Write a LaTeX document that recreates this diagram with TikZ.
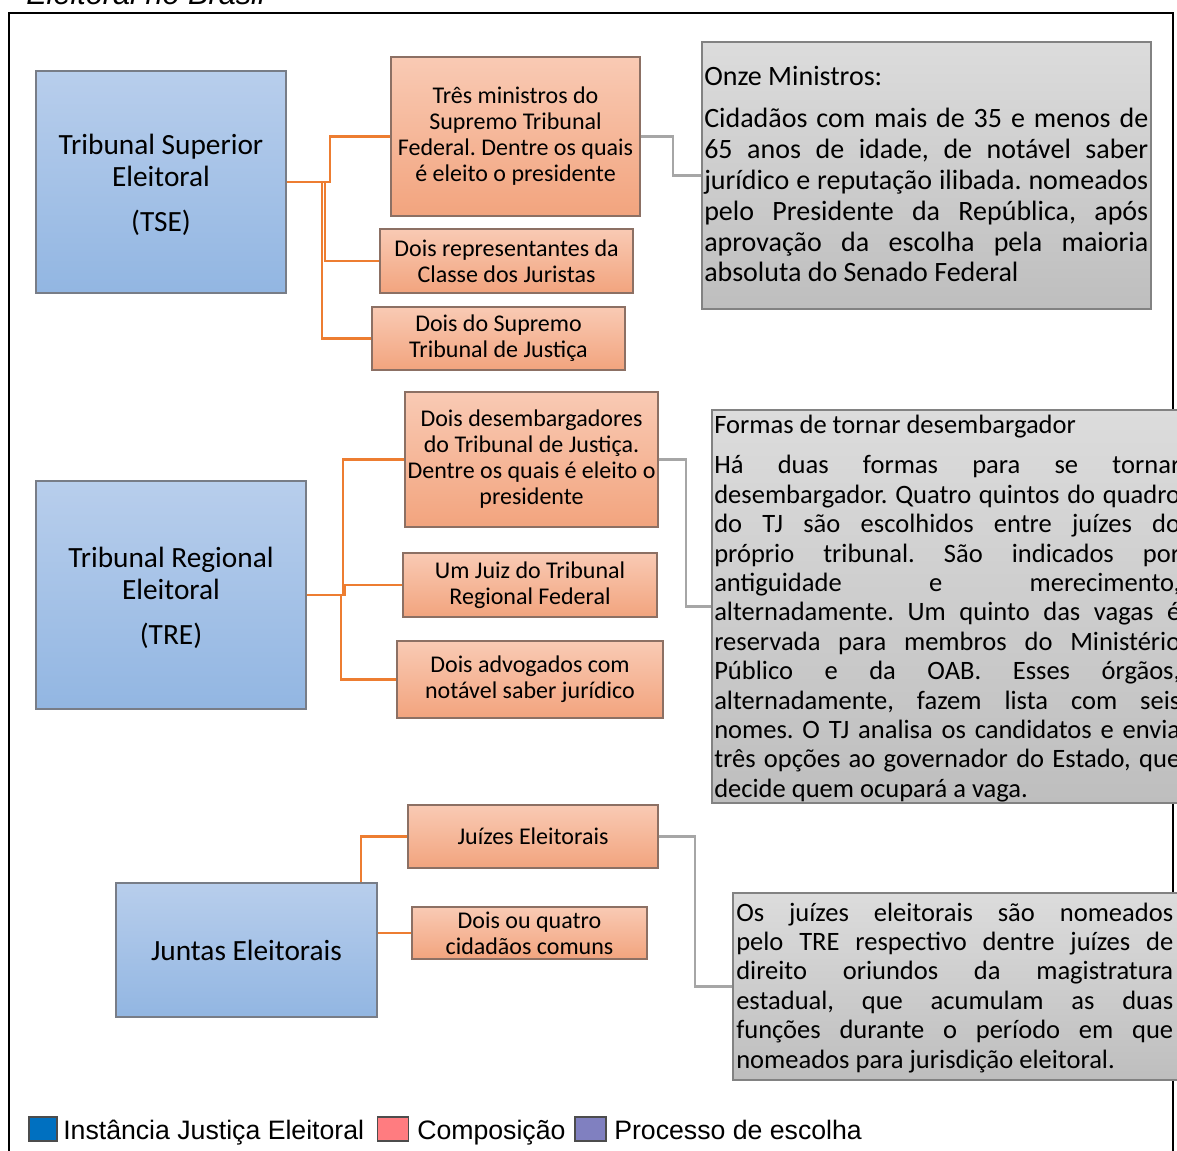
\documentclass[tikz,border=0pt]{standalone}
\usepackage{fontspec}
\setmainfont{Carlito}
\newfontfamily\arialf{Liberation Sans}
\frenchspacing
\definecolor{bluetop}{RGB}{184,206,236}
\definecolor{bluebot}{RGB}{146,182,226}
\definecolor{blueedge}{RGB}{120,125,135}
\definecolor{ortop}{RGB}{249,202,180}
\definecolor{orbot}{RGB}{242,164,126}
\definecolor{oredge}{RGB}{140,112,100}
\definecolor{graytop}{RGB}{220,220,220}
\definecolor{graybot}{RGB}{190,190,190}
\definecolor{grayedge}{RGB}{130,130,130}
\definecolor{oline}{RGB}{237,125,49}
\definecolor{gline}{RGB}{166,166,166}
\definecolor{legblue}{RGB}{0,112,192}
\definecolor{legpink}{RGB}{255,124,128}
\definecolor{legpurple}{RGB}{128,128,192}
\def\pu{0.75pt}
\begin{document}
\begin{tikzpicture}[x=0.75pt,y=-0.75pt,
  bluebox/.style={draw=blueedge, line width=1.1pt, top color=bluetop, bottom color=bluebot,
    align=center, inner sep=0pt, font=\fontsize{22}{24}\selectfont},
  obox/.style={draw=oredge, line width=1.1pt, top color=ortop, bottom color=orbot,
    align=center, inner sep=0pt, font=\fontsize{18}{19.5}\selectfont},
  gbox/.style={draw=grayedge, line width=1.1pt, top color=graytop, bottom color=graybot, inner sep=0pt},
  gtextA/.style={anchor=base west, inner sep=0pt, align=justify, font=\fontsize{21}{23.1}\selectfont},
  gtextB/.style={anchor=base west, inner sep=0pt, align=justify, font=\fontsize{19.9}{22.05}\selectfont},
  oconn/.style={draw=oline, line width=2.1pt},
  gconn/.style={draw=gline, line width=2pt},
  legsq/.style={draw=black!70, line width=0.8pt, inner sep=0pt},
  legtext/.style={anchor=base west, inner sep=0pt, font=\arialf\fontsize{20}{24}\selectfont}
]
\useasboundingbox (0,0) rectangle (1177,1151);
\fill[white] (0,0) rectangle (1177,1151);

% caption line (cut by the top edge)
\node[anchor=base west, inner sep=0pt, font=\arialf\itshape\fontsize{23}{27}\selectfont] (cap) at (26,5) {Eleitoral no Brasil};

% frame
\draw[line width=1.5pt] (9,1175) -- (9,13) -- (1173,13) -- (1173,1175);

% instances
\node[bluebox, minimum width=250*\pu, minimum height=222*\pu] (tse) at (161,182) {\\[-4.5pt]Tribunal Superior\\Eleitoral\\[10pt](TSE)};
\node[bluebox, minimum width=270*\pu, minimum height=228*\pu] (tre) at (171,595) {\\[-4.5pt]Tribunal Regional\\Eleitoral\\[10pt](TRE)};
\node[bluebox, minimum width=261*\pu, minimum height=134*\pu] (jun) at (246.5,950) {Juntas Eleitorais};

% composition
\node[obox, minimum width=249*\pu, minimum height=159*\pu] (b1) at (515.5,136.5) {Três ministros do\\Supremo Tribunal\\Federal. Dentre os quais\\é eleito o presidente};
\node[obox, minimum width=253*\pu, minimum height=64*\pu] (b2) at (506.5,261) {Dois representantes da\\Classe dos Juristas};
\node[obox, minimum width=253*\pu, minimum height=63*\pu] (b3) at (498.5,338.5) {Dois do Supremo\\Tribunal de Justiça};
\node[obox, minimum width=253*\pu, minimum height=135*\pu] (b4) at (531.5,459.5) {Dois desembargadores\\do Tribunal de Justiça.\\Dentre os quais é eleito o\\presidente};
\node[obox, minimum width=254*\pu, minimum height=64*\pu] (b5) at (530,585) {Um Juiz do Tribunal\\Regional Federal};
\node[obox, minimum width=266*\pu, minimum height=77*\pu] (b6) at (530,679.5) {Dois advogados com\\notável saber jurídico};
\node[obox, minimum width=250*\pu, minimum height=63*\pu] (b7) at (533,836.5) {Juízes Eleitorais};
\node[obox, minimum width=235*\pu, minimum height=52*\pu] (b8) at (529.5,933) {Dois ou quatro\\cidadãos comuns};

% orange connectors
\draw[oconn] (tse.east) -- (330,182) |- (b1.west);
\draw[oconn] (tse.east) -- (325,182) |- (b2.west);
\draw[oconn] (tse.east) -- (322,182) |- (b3.west);
\draw[oconn] (tre.east) -- (343,595) |- (b4.west);
\draw[oconn] (tre.east) -- (345,595) |- (b5.west);
\draw[oconn] (tre.east) -- (341,595) |- (b6.west);
\draw[oconn] (jun.north -| 361,0) |- (b7.west);
\draw[oconn] (jun.east |- b8.west) -- (b8.west);

% selection process boxes
\node[gbox, minimum width=449*\pu, minimum height=267*\pu] (g1) at (926.5,175.5) {};
\node[gbox, minimum width=483*\pu, minimum height=393*\pu] (g2) at (953.5,606.5) {};
\node[gbox, minimum width=452*\pu, minimum height=187*\pu] (g3) at (959,986.5) {};

% gray connectors
\draw[gconn] (b1.east) -- (673,136.5) |- (g1.west);
\draw[gconn] (b4.east) -- (686,459.5) |- (g2.west);
\draw[gconn] (b7.east) -- (695,836.5) |- (g3.west);

% texts of the gray boxes
\node[gtextA, text width=444*\pu] (t1) at (704,86) {Onze Ministros:\par\vspace{8.3pt}%
Cidadãos com mais de 35 e menos de\linebreak
65 anos de idade, de notável saber\linebreak
jurídico e reputação ilibada. nomeados\linebreak
pelo Presidente da República, após\linebreak
aprovação da escolha pela maioria\linebreak
absoluta do Senado Federal};

\node[gtextB, text width=466*\pu] (t2) at (714,434) {Formas de tornar desembargador\par\vspace{7.9pt}%
Há duas formas para se tornar\linebreak
desembargador. Quatro quintos do quadro\linebreak
do TJ são escolhidos entre juízes do\linebreak
próprio tribunal. São indicados por\linebreak
antiguidade e merecimento,\linebreak
alternadamente. Um quinto das vagas é\linebreak
reservada para membros do Ministério\linebreak
Público e da OAB. Esses órgãos,\linebreak
alternadamente, fazem lista com seis\linebreak
nomes. O TJ analisa os candidatos e envia\linebreak
três opções ao governador do Estado, que\linebreak
decide quem ocupará a vaga.};

\node[gtextB, text width=437*\pu] (t3) at (736,921) {Os juízes eleitorais são nomeados\linebreak
pelo TRE respectivo dentre juízes de\linebreak
direito oriundos da magistratura\linebreak
estadual, que acumulam as duas\linebreak
funções durante o período em que\linebreak
nomeados para jurisdição eleitoral.};

% legend
\node[legsq, fill=legblue, minimum width=28*\pu, minimum height=24*\pu] (l1) at (43,1129) {};
\node[legtext] (lt1) at (63,1139) {Instância Justiça Eleitoral};
\node[legsq, fill=legpink, minimum width=31*\pu, minimum height=24*\pu] (l2) at (393,1129) {};
\node[legtext] (lt2) at (417,1139) {Composição};
\node[legsq, fill=legpurple, minimum width=31*\pu, minimum height=24*\pu] (l3) at (590.5,1129) {};
\node[legtext] (lt3) at (614,1139) {Processo de escolha};
\end{tikzpicture}
\end{document}
